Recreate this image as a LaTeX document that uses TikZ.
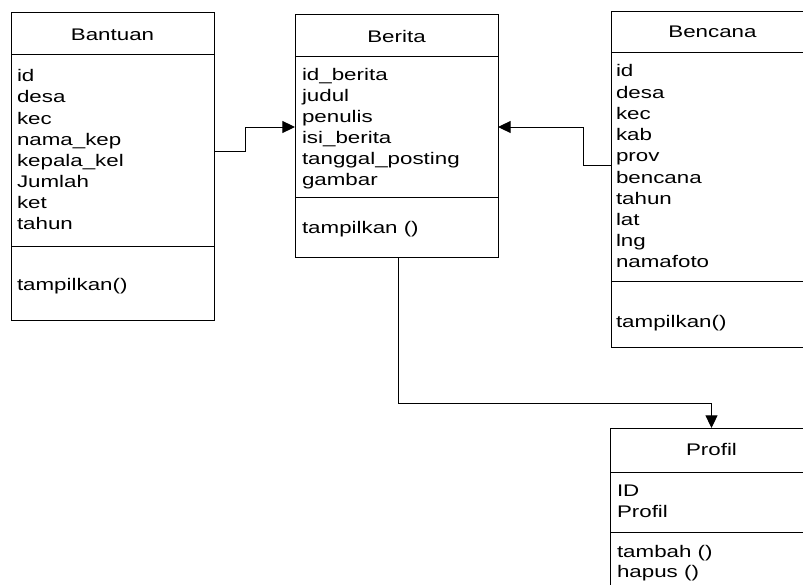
\documentclass[tikz,border=0pt]{standalone}
\usepackage{fontspec}
\setmainfont{Liberation Sans}[FakeStretch=1.33]
\usetikzlibrary{arrows.meta}
\def\u{0.75pt}
\tikzset{
  cls/.style={draw, rectangle, outer sep=0pt, inner sep=0pt, line width=0.75pt},
  txt/.style={anchor=base west, inner sep=0pt, outer sep=0pt, font=\fontsize{12.6}{15}\selectfont},
  ttl/.style={anchor=base, inner sep=0pt, outer sep=0pt, font=\fontsize{12.6}{15}\selectfont},
  sep/.style={line width=0.75pt},
  arr/.style={line width=0.75pt, -{Triangle[length=9.5pt,width=9pt]}},
}
\begin{document}
\begin{tikzpicture}[x=0.75pt, y=-0.75pt]
\path[use as bounding box] (0,0) rectangle (803,585);
\clip (0,0) rectangle (803,585);
% boxes
\node[cls, minimum width={203*\u}, minimum height={307*\u}] (bantuan) at (112.5,166.5) {};
\node[cls, minimum width={203*\u}, minimum height={242*\u}] (berita) at (396.5,136) {};
\node[cls, minimum width={203*\u}, minimum height={335*\u}] (bencana) at (712.5,179.5) {};
\node[cls, minimum width={203*\u}, minimum height={192*\u}] (profil) at (711.5,524) {};
% dividers
\draw[sep] (bantuan.west |- 0,55) -- (bantuan.east |- 0,55);
\draw[sep] (bantuan.west |- 0,246) -- (bantuan.east |- 0,246);
\draw[sep] (berita.west |- 0,57) -- (berita.east |- 0,57);
\draw[sep] (berita.west |- 0,197) -- (berita.east |- 0,197);
\draw[sep] (bencana.west |- 0,53) -- (bencana.east |- 0,53);
\draw[sep] (bencana.west |- 0,281) -- (bencana.east |- 0,281);
\draw[sep] (profil.west |- 0,472) -- (profil.east |- 0,472);
\draw[sep] (profil.west |- 0,532) -- (profil.east |- 0,532);
% titles
\node[ttl] (tbantuan) at (112.5,41) {Bantuan};
\node[ttl] (tberita) at (396.5,43) {Berita};
\node[ttl] (tbencana) at (712.5,38) {Bencana};
\node[ttl] (tprofil) at (711.5,455) {Profil};
% Bantuan attributes
\foreach \t [count=\i from 0] in {id,desa,kec,nama\_kep,kepala\_kel,Jumlah,ket,tahun}
  \node[txt] (ba\i) at (17,{82+21*\i}) {\t};
\node[txt] (bam) at (17,290) {tampilkan()};
% Berita attributes
\foreach \t [count=\i from 0] in {id\_berita,judul,penulis,isi\_berita,tanggal\_posting,gambar}
  \node[txt] (be\i) at (302,{80+21.1*\i}) {\t};
\node[txt] (bem) at (302,233) {tampilkan ()};
% Bencana attributes
\foreach \t [count=\i from 0] in {id,desa,kec,kab,prov,bencana,tahun,lat,lng,namafoto}
  \node[txt] (bc\i) at (616,{77+21.2*\i}) {\t};
\node[txt] (bcm) at (616,327) {tampilkan()};
% Profil
\node[txt] (pr0) at (617,496) {ID};
\node[txt] (pr1) at (617,517) {Profil};
\node[txt] (prm0) at (617,557) {tambah ()};
\node[txt] (prm1) at (617,577) {hapus ()};
% connectors
\draw[arr] (bantuan.east |- 0,151) -- (245,151) -- (245,127) -- (berita.west |- 0,127);
\draw[arr] (bencana.west |- 0,165) -| (583,127) -- (berita.east |- 0,127);
\draw[arr] (berita.south -| 398,0) -- (398,403) -| (profil.north);
\end{tikzpicture}
\end{document}
